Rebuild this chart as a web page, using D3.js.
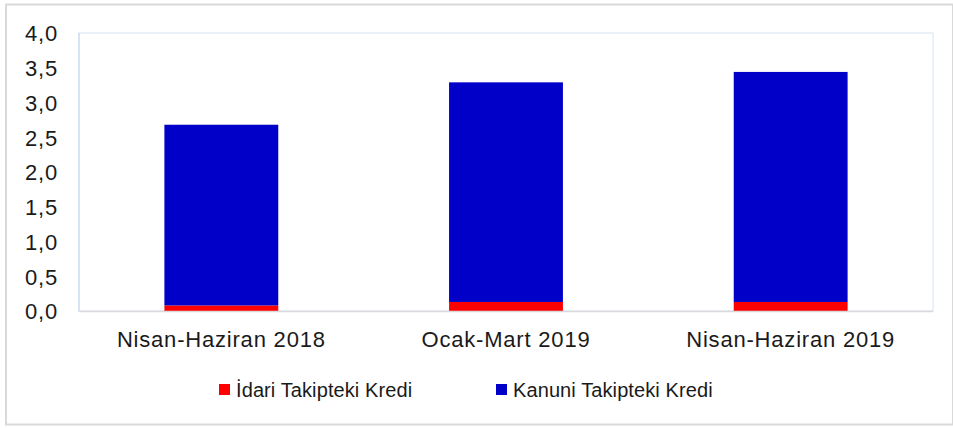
<!DOCTYPE html>
<html>
<head>
<meta charset="utf-8">
<script src="https://cdn.jsdelivr.net/npm/d3@7"></script>
<style>
  body { margin: 0; background: #fff; }
  svg { display: block; font-family: "Liberation Sans", Arial, sans-serif; }
  .tick-label { font-size: 22px; fill: #1a1a1a; letter-spacing: 0.8px; }
  .cat-label { font-size: 22px; fill: #1a1a1a; letter-spacing: 0.8px; }
  .legend-label { font-size: 20px; fill: #1a1a1a; letter-spacing: 0.1px; }
</style>
</head>
<body>
<div id="chart"></div>
<script>
// values
const categories = ["Nisan-Haziran 2018", "Ocak-Mart 2019", "Nisan-Haziran 2019"];
const idari = [0.08, 0.13, 0.13];
const kanuni = [2.60, 3.16, 3.31];
const yTicks = [0, 0.5, 1.0, 1.5, 2.0, 2.5, 3.0, 3.5, 4.0];

const seriesNames = ["İdari Takipteki Kredi", "Kanuni Takipteki Kredi"];
const seriesColors = ["#ff0000", "#0000c8"];

const width = 953;
const height = 428;
const plot = { left: 79, right: 933, top: 33, bottom: 311 };

const rows = categories.map((c, i) => ({ cat: c, idari: idari[i], kanuni: kanuni[i] }));
const stacked = d3.stack().keys(["idari", "kanuni"])(rows);

const x = d3
  .scaleBand()
  .domain(categories)
  .range([plot.left, plot.right])
  .paddingInner(0.6)
  .paddingOuter(0.3);

const y = d3.scaleLinear().domain([0, 4]).range([plot.bottom, plot.top]);

const fmt = d3.formatLocale({ decimal: ",", thousands: ".", grouping: [3], currency: ["", ""] }).format(".1f");

const svg = d3
  .select("#chart")
  .append("svg")
  .attr("width", width)
  .attr("height", height);

// outer frame
svg
  .append("rect")
  .attr("x", 6)
  .attr("y", 4.5)
  .attr("width", 947)
  .attr("height", 420)
  .attr("fill", "#fff")
  .attr("stroke", "#d9d9d9")
  .attr("stroke-width", 2);

// plot area frame
svg
  .append("rect")
  .attr("x", plot.left)
  .attr("y", plot.top)
  .attr("width", plot.right - plot.left)
  .attr("height", plot.bottom - plot.top)
  .attr("fill", "none")
  .attr("stroke", "#e3edf8")
  .attr("stroke-width", 1.5);

svg
  .append("line")
  .attr("x1", plot.left)
  .attr("x2", plot.left)
  .attr("y1", plot.top)
  .attr("y2", plot.bottom)
  .attr("stroke", "#cddff3")
  .attr("stroke-width", 1.5);

// bars
svg
  .selectAll("g.series")
  .data(stacked)
  .join("g")
  .attr("class", "series")
  .attr("fill", (d, i) => seriesColors[i])
  .selectAll("rect")
  .data((d) => d)
  .join("rect")
  .attr("x", (d) => x(d.data.cat))
  .attr("width", x.bandwidth())
  .attr("y", (d) => y(d[1]))
  .attr("height", (d) => y(d[0]) - y(d[1]));

// baseline
svg
  .append("line")
  .attr("x1", plot.left)
  .attr("x2", plot.right)
  .attr("y1", plot.bottom + 0.5)
  .attr("y2", plot.bottom + 0.5)
  .attr("stroke", "#d9d9d9")
  .attr("stroke-width", 1.5);

// y axis labels
const yAxis = svg
  .append("g")
  .attr("transform", `translate(${plot.left - 21},0)`)
  .call(d3.axisLeft(y).tickValues(yTicks).tickFormat(fmt).tickSize(0).tickPadding(0));
yAxis.select(".domain").remove();
yAxis
  .selectAll("text")
  .attr("class", "tick-label")
  .attr("font-size", null)
  .attr("font-family", null)
  .attr("fill", null)
  .attr("dy", "0.36em");

// x axis labels
const xAxis = svg
  .append("g")
  .attr("transform", `translate(0,${plot.bottom})`)
  .call(d3.axisBottom(x).tickSize(0).tickPadding(0));
xAxis.select(".domain").remove();
xAxis
  .selectAll("text")
  .attr("class", "cat-label")
  .attr("font-size", null)
  .attr("font-family", null)
  .attr("fill", null)
  .attr("dy", null)
  .attr("y", 36);

// legend
const legendX = [219, 496];
const legend = svg
  .selectAll("g.legend")
  .data(seriesNames)
  .join("g")
  .attr("class", "legend")
  .attr("transform", (d, i) => `translate(${legendX[i]},384)`);

legend
  .append("rect")
  .attr("width", 11)
  .attr("height", 11)
  .attr("fill", (d, i) => seriesColors[i]);

legend
  .append("text")
  .attr("class", "legend-label")
  .attr("x", 17)
  .attr("y", 13)
  .text((d) => d);
</script>
</body>
</html>
